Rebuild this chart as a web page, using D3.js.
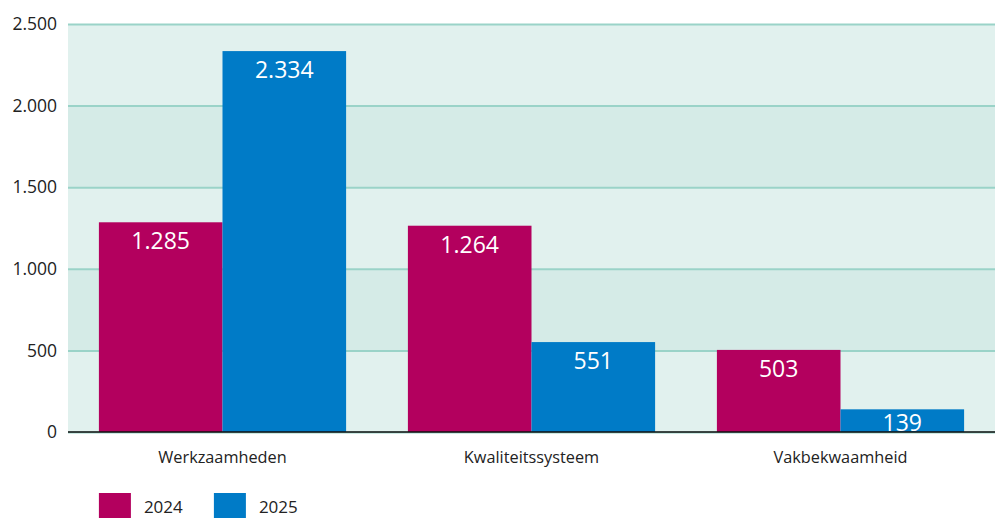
<!DOCTYPE html>
<html>
<head>
<meta charset="utf-8">
<script src="https://d3js.org/d3.v7.min.js"></script>
<style>
body { margin: 0; background: #fff; }
svg text { font-family: "Open Sans", "Noto Sans", sans-serif; fill: #222; }
.value { fill: #fff; font-size: 23px; }
.tick text { font-size: 17.5px; }
.cat { font-size: 16.3px; }
.legend text { font-size: 17px; }
</style>
</head>
<body>
<script>
var categories = ["Werkzaamheden", "Kwaliteitssysteem", "Vakbekwaamheid"];
var years = ["2024", "2025"];
var values2024 = [1285, 1264, 503];
var values2025 = [2334, 551, 139];
var yTicks = [0, 500, 1000, 1500, 2000, 2500];
var colors = ["#b3005e", "#007bc7"];

var W = 995, H = 518;
var margin = {top: 24, right: 0, bottom: 86, left: 68};
var width = W - margin.left - margin.right,
    height = H - margin.top - margin.bottom;

var nl = d3.formatLocale({decimal: ",", thousands: ".", grouping: [3], currency: ["€", ""]});
var fmt = nl.format(",d");

var svg = d3.select("body").append("svg")
    .attr("width", W)
    .attr("height", H)
  .append("g")
    .attr("transform", "translate(" + margin.left + "," + margin.top + ")");

var y = d3.scaleLinear().domain([0, 2500]).range([height, 0]);
var x0 = d3.scaleBand().domain(categories).range([0, width]).paddingInner(0.2).paddingOuter(0.1);
var x1 = d3.scaleBand().domain(years).range([0, x0.bandwidth()]);

// alternating background bands
svg.selectAll(".band")
    .data(d3.pairs(yTicks))
  .enter().append("rect")
    .attr("x", 0)
    .attr("width", width)
    .attr("y", function(d) { return y(d[1]); })
    .attr("height", function(d) { return y(d[0]) - y(d[1]); })
    .style("fill", function(d, i) { return i % 2 ? "#d5ebe7" : "#e1f1ee"; });

var yAxis = d3.axisLeft(y).tickValues(yTicks).tickSize(-width).tickFormat(fmt);
svg.append("g")
    .attr("class", "y axis")
    .call(yAxis)
    .call(function(g) {
      g.select(".domain").remove();
      g.selectAll(".tick line").attr("stroke", "#9ad3c8").attr("stroke-width", 2);
      g.selectAll(".tick text").attr("x", -11).attr("fill", "#222");
    });

var rows = categories.map(function(c, i) {
  return {cat: c, vals: [{year: years[0], v: values2024[i]}, {year: years[1], v: values2025[i]}]};
});

var groups = svg.selectAll(".grp")
    .data(rows)
  .enter().append("g")
    .attr("class", "grp")
    .attr("transform", function(d) { return "translate(" + x0(d.cat) + ",0)"; });

groups.selectAll("rect")
    .data(function(d) { return d.vals; })
  .enter().append("rect")
    .attr("x", function(d) { return x1(d.year); })
    .attr("width", x1.bandwidth())
    .attr("y", function(d) { return y(d.v); })
    .attr("height", function(d) { return height - y(d.v); })
    .style("fill", function(d, i) { return colors[i]; });

groups.selectAll(".value")
    .data(function(d) { return d.vals; })
  .enter().append("text")
    .attr("class", "value")
    .attr("text-anchor", "middle")
    .attr("x", function(d) { return x1(d.year) + x1.bandwidth() / 2; })
    .attr("y", function(d) { return Math.min(y(d.v) + 27, height - 1); })
    .text(function(d) { return fmt(d.v); });

// zero line
svg.append("line")
    .attr("x1", 0).attr("x2", width)
    .attr("y1", y(0)).attr("y2", y(0))
    .attr("stroke", "#111").attr("stroke-width", 1.5);

svg.selectAll(".cat")
    .data(categories)
  .enter().append("text")
    .attr("class", "cat")
    .attr("text-anchor", "middle")
    .attr("x", function(d) { return x0(d) + x0.bandwidth() / 2; })
    .attr("y", height + 31)
    .text(function(d) { return d; });

var legend = svg.append("g")
    .attr("class", "legend")
    .attr("transform", "translate(" + (x0(categories[0])) + "," + (height + 61) + ")");

var li = legend.selectAll("g")
    .data(years)
  .enter().append("g")
    .attr("transform", function(d, i) { return "translate(" + (i * 115) + ",0)"; });

li.append("rect")
    .attr("width", 32).attr("height", 26)
    .style("fill", function(d, i) { return colors[i]; });

li.append("text")
    .attr("x", 45).attr("y", 20)
    .text(function(d) { return d; });
</script>
</body>
</html>
